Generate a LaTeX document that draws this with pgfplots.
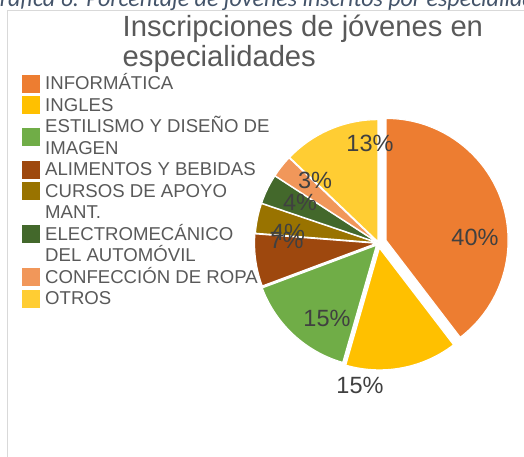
\documentclass[border=0pt]{standalone}
\usepackage{pgfplots}
\pgfplotsset{compat=1.18}
\usepackage{pgfplotstable}
\usepackage{fontspec}
\setmainfont{Liberation Sans}
\newfontfamily\capfont{Carlito}

\definecolor{cInf}{HTML}{ED7D31}
\definecolor{cIng}{HTML}{FFC000}
\definecolor{cEst}{HTML}{70AD47}
\definecolor{cAli}{HTML}{9E480E}
\definecolor{cCur}{HTML}{997300}
\definecolor{cEle}{HTML}{43682B}
\definecolor{cCon}{HTML}{F1975A}
\definecolor{cOtr}{HTML}{FFCD33}
\definecolor{txtc}{HTML}{595959}
\definecolor{lblc}{HTML}{404040}
\definecolor{capc}{HTML}{44546A}
\definecolor{frame}{HTML}{D9D9D9}

\newcommand\lblfont{\fontsize{23.5}{27}\selectfont}
\newcommand\legfont{\fontsize{18.6}{21.5}\selectfont}

% v = percentage, ex = explode (pt), lx/ly = label offset from centre (pt)
% trow = legend text row, srow = legend square row
\pgfplotstableread[col sep=semicolon]{
name;second;v;ex;lx;ly;col;trow;srow
INFORMÁTICA;;40;8;96.5;6;cInf;0;0
INGLES;;15;5;-18.5;-142;cIng;1;1
ESTILISMO Y DISEÑO DE;IMAGEN;15;3;-51.5;-75;cEst;2;2.5
ALIMENTOS Y BEBIDAS;;7;2;-92;3;cAli;4;4
CURSOS DE APOYO;MANT.;4;1.5;-90.5;11;cCur;5;5
ELECTROMECÁNICO;DEL AUTOMÓVIL;4;1.5;-78.5;41;cEle;7;7
CONFECCIÓN DE ROPA;;3;1.5;-63.5;63;cCon;9;9
OTROS;;13;1.5;-8.5;100;cOtr;10;10
}\piedata

\begin{document}
\begin{tikzpicture}
\useasboundingbox (0,0) rectangle (524pt,456pt);
\clip (0,0) rectangle (524pt,456pt);
\begin{axis}[
    at={(0pt,0pt)}, anchor=south west,
    scale only axis, width=524pt, height=456pt,
    xmin=0, xmax=524, ymin=0, ymax=456,
    hide axis, clip=false
]
% frame of the chart area
\draw[frame, line width=0.8pt] (axis cs:7.5,-5) -- (axis cs:7.5,445.5) -- (axis cs:530,445.5);

% caption (cut off in the reference)
\node[anchor=base west, inner sep=0pt, text=capc,
      font=\capfont\itshape\fontsize{24}{28}\selectfont]
  at (axis cs:-15.5,449) {Gráfica 6. Porcentaje de jóvenes inscritos por especialidad};

% title
\node[anchor=base west, inner sep=0pt, text=txtc, font=\fontsize{29.2}{31}\selectfont]
  at (axis cs:122.5,419.5) {Inscripciones de jóvenes en};
\node[anchor=base west, inner sep=0pt, text=txtc, font=\fontsize{29.2}{31}\selectfont]
  at (axis cs:122.5,389) {especialidades};

\def\cx{378.5}
\def\cy{213}
\def\R{122}
\def\tot{101}
\def\cum{0}
\pgfplotsforeachungrouped \i in {0,...,7}{
  \pgfplotstablegetelem{\i}{v}\of\piedata \let\v\pgfplotsretval
  \pgfplotstablegetelem{\i}{ex}\of\piedata \let\ex\pgfplotsretval
  \pgfplotstablegetelem{\i}{col}\of\piedata \let\col\pgfplotsretval
  \pgfplotstablegetelem{\i}{name}\of\piedata \let\nm\pgfplotsretval
  \pgfplotstablegetelem{\i}{second}\of\piedata \let\nmb\pgfplotsretval
  \pgfplotstablegetelem{\i}{trow}\of\piedata \let\tr\pgfplotsretval
  \pgfplotstablegetelem{\i}{srow}\of\piedata \let\sr\pgfplotsretval
  \pgfmathsetmacro\aA{90-\cum/\tot*360}
  \pgfmathsetmacro\cum{\cum+\v}
  \pgfmathsetmacro\aB{90-\cum/\tot*360}
  \pgfmathsetmacro\aM{(\aA+\aB)/2}
  % slice
  \edef\cmd{\noexpand\fill[fill=\col, draw=white, line width=1.2pt, line join=round]
    ([shift={(\aM:\ex pt)}]axis cs:\cx,\cy) -- +(\aA:\R pt)
    arc[start angle=\aA, end angle=\aB, radius=\R pt] -- cycle;}
  \cmd
  % legend
  \pgfmathsetmacro\sy{456-83.5-21.5*\sr}
  \pgfmathsetmacro\syA{\sy-9}
  \pgfmathsetmacro\syB{\sy+9}
  \pgfmathsetmacro\ty{456-89.7-21.5*\tr}
  \pgfmathsetmacro\tyb{\ty-21.5}
  \edef\cmd{\noexpand\fill[\col] (axis cs:22,\syA) rectangle (axis cs:40,\syB);
    \noexpand\node[anchor=base west, inner sep=0pt, text=txtc, font=\noexpand\legfont]
      at (axis cs:45,\ty) {\nm};
    \noexpand\node[anchor=base west, inner sep=0pt, text=txtc, font=\noexpand\legfont]
      at (axis cs:45,\tyb) {\nmb};}
  \cmd
}
% data labels on top of the slices
\pgfplotsforeachungrouped \i in {0,...,7}{
  \pgfplotstablegetelem{\i}{v}\of\piedata \let\v\pgfplotsretval
  \pgfplotstablegetelem{\i}{lx}\of\piedata \let\lx\pgfplotsretval
  \pgfplotstablegetelem{\i}{ly}\of\piedata \let\ly\pgfplotsretval
  \edef\cmd{\noexpand\node[anchor=center, inner sep=0pt, text=lblc, font=\noexpand\lblfont]
    at ([shift={(\lx pt,\ly pt)}]axis cs:\cx,\cy) {\v\noexpand\%};}
  \cmd
}
\end{axis}
\end{tikzpicture}
\end{document}
